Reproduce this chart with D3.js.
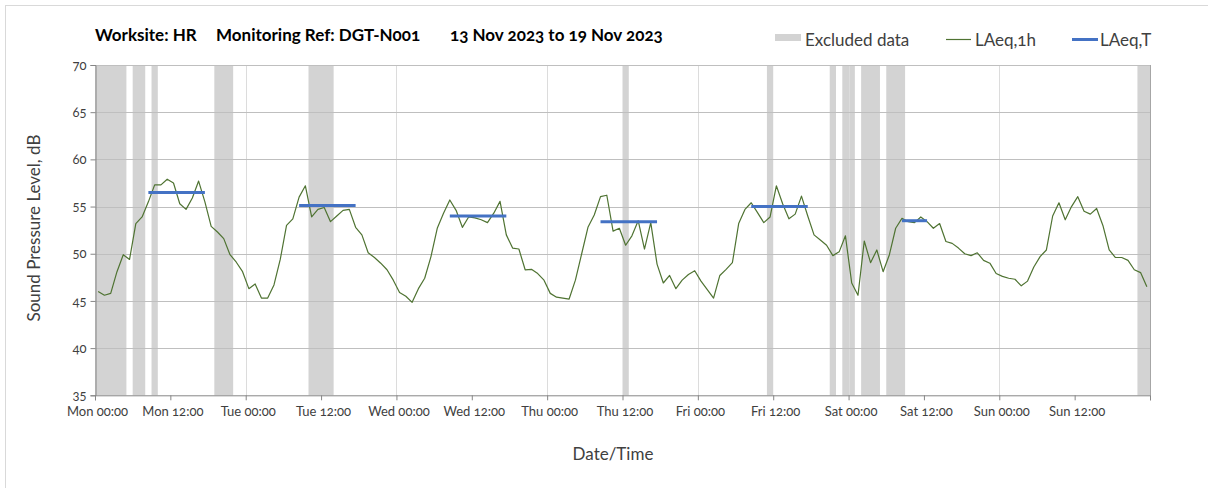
<!DOCTYPE html>
<html>
<head>
<meta charset="utf-8">
<script src="https://cdn.jsdelivr.net/npm/d3@7"></script>
<style>
  html, body { margin: 0; padding: 0; background: #fff; }
  svg { display: block; font-family: "Lato", "Open Sans", sans-serif; font-variant-numeric: oldstyle-nums; font-feature-settings: "onum" 1; }
</style>
</head>
<body>
<svg id="chart" width="1208" height="488"></svg>
<script>
// ---------- DATA ----------
const dayNames = ["Mon", "Tue", "Wed", "Thu", "Fri", "Sat", "Sun"];
const xTickHours = [0, 12, 24, 36, 48, 60, 72, 84, 96, 108, 120, 132, 144, 156, 168];
const xTickLabels = ["Mon 00:00", "Mon 12:00", "Tue 00:00", "Tue 12:00", "Wed 00:00", "Wed 12:00",
  "Thu 00:00", "Thu 12:00", "Fri 00:00", "Fri 12:00", "Sat 00:00", "Sat 12:00", "Sun 00:00", "Sun 12:00", ""];
const yTicks = [35, 40, 45, 50, 55, 60, 65, 70];

// LAeq,1h hourly values, hour 0 = Mon 13 Nov 2023 00:00
const laeq1h = [
  46.0, 45.6, 45.8, 48.1, 49.9, 49.4, 53.2, 53.9, 55.5, 57.3, 57.3, 57.9,
  57.5, 55.3, 54.7, 55.9, 57.7, 55.5, 52.9, 52.3, 51.6, 49.9, 49.1, 48.1,
  46.3, 46.8, 45.3, 45.3, 46.7, 49.4, 53.0, 53.7, 56.0, 57.2, 53.9, 54.7,
  54.9, 53.4, 54.0, 54.6, 54.7, 52.8, 52.0, 50.1, 49.6, 49.0, 48.3, 47.2,
  45.9, 45.5, 44.85, 46.3, 47.4, 49.7, 52.7, 54.3, 55.7, 54.6, 52.8, 53.9,
  53.8, 53.6, 53.3, 54.3, 55.55, 52.0, 50.6, 50.5, 48.3, 48.35, 47.9, 47.2,
  45.8, 45.4, 45.3, 45.2, 47.2, 50.0, 52.8, 54.1, 56.05, 56.2, 52.4, 52.7,
  50.9, 51.9, 53.5, 50.5, 53.3, 48.9, 46.9, 47.7, 46.3, 47.2, 47.8, 48.2,
  47.1, 46.2, 45.3, 47.7, 48.35, 49.05, 53.2, 54.7, 55.4, 54.35, 53.3, 53.9,
  57.2, 55.3, 53.7, 54.2, 56.1, 54.0, 52.0, 51.45, 50.9, 49.8, 50.2, 51.9,
  46.9, 45.6, 51.35, 49.05, 50.4, 48.1, 49.9, 52.7, 53.75, 53.4, 53.3, 53.9,
  53.4, 52.7, 53.2, 51.3, 51.1, 50.6, 50.0, 49.8, 50.1, 49.3, 49.0, 47.9,
  47.6, 47.4, 47.3, 46.6, 47.1, 48.6, 49.7, 50.4, 54.0, 55.4, 53.6, 55.0,
  56.05, 54.5, 54.2, 54.8, 53.0, 50.4, 49.6, 49.6, 49.3, 48.3, 48.0, 46.5
];

// LAeq,T period values: first hour, last hour (inclusive), level
const laeqTStart = [8, 32, 56, 80, 104, 128];
const laeqTEnd   = [17, 41, 65, 89, 113, 132];
const laeqTValue = [56.5, 55.1, 54.0, 53.4, 55.0, 53.5];

// Excluded data periods (start hour, end hour)
const excludedStart = [0, 6, 9, 19, 34, 84, 107, 117, 119, 122, 126, 166];
const excludedEnd   = [5, 8, 10, 22, 38, 85, 108, 118, 121, 125, 129, 168];

// ---------- CHART ----------
const svg = d3.select("#chart");
const W = 1208, H = 488;
const plotLeft = 95, plotRight = 1150, plotTop = 65, plotBottom = 395.3;

const x = d3.scaleLinear().domain([0, 168]).range([plotLeft, plotRight]);
const y = d3.scaleLinear().domain([35, 70]).range([plotBottom, plotTop]);

// outer frame
svg.append("rect").attr("x", 5.5).attr("y", 5.5).attr("width", W + 10).attr("height", H + 10)
  .attr("fill", "#fff").attr("stroke", "#d9d9d9").attr("stroke-width", 1);

// excluded bands
svg.append("g").selectAll("rect")
  .data(excludedStart.map((s, i) => ({ s, e: excludedEnd[i] })))
  .join("rect")
  .attr("x", d => x(d.s)).attr("width", d => x(d.e) - x(d.s))
  .attr("y", y(70)).attr("height", y(35) - y(70))
  .attr("fill", "#d3d3d3");

// vertical day gridlines
svg.append("g").selectAll("line")
  .data([24, 48, 72, 96, 120, 144])
  .join("line")
  .attr("x1", d => Math.round(x(d)) + 0.5).attr("x2", d => Math.round(x(d)) + 0.5)
  .attr("y1", y(70)).attr("y2", y(35))
  .attr("stroke", "#dcdcdc").attr("stroke-width", 1);

// horizontal gridlines
svg.append("g").selectAll("line")
  .data(yTicks.filter(v => v > 35))
  .join("line")
  .attr("x1", plotLeft).attr("x2", plotRight)
  .attr("y1", d => Math.round(y(d)) + 0.5).attr("y2", d => Math.round(y(d)) + 0.5)
  .attr("stroke", "#bfbfbf").attr("stroke-width", 1);

// right border line of plot
svg.append("line")
  .attr("x1", Math.round(plotRight) + 0.5).attr("x2", Math.round(plotRight) + 0.5)
  .attr("y1", y(70)).attr("y2", y(35))
  .attr("stroke", "#a6a6a6");

// Y axis
const yAxis = d3.axisLeft(y).tickValues(yTicks).tickSize(5).tickPadding(4).tickFormat(d3.format("d"));
const gy = svg.append("g").attr("transform", `translate(${plotLeft + 0.5},0)`).call(yAxis);
gy.select(".domain").attr("stroke", "#868686");
gy.selectAll(".tick line").attr("stroke", "#868686");
gy.selectAll(".tick text").attr("fill", "#404040").attr("font-size", 13)
  .attr("font-family", "Lato, 'Open Sans', sans-serif");

// X axis
const xAxis = d3.axisBottom(x).tickValues(xTickHours).tickSize(5).tickPadding(6)
  .tickFormat((d, i) => xTickLabels[i]);
const gx = svg.append("g").attr("transform", `translate(0,${plotBottom})`).call(xAxis);
gx.select(".domain").attr("stroke", "#868686");
gx.selectAll(".tick line").attr("stroke", "#868686");
gx.selectAll(".tick text").attr("fill", "#404040").attr("font-size", 13).attr("dx", 2)
  .attr("font-family", "Lato, 'Open Sans', sans-serif");

// LAeq,1h line
const line = d3.line().x((d, i) => x(i + 0.5)).y(d => y(d));
svg.append("path").datum(laeq1h)
  .attr("d", line).attr("fill", "none")
  .attr("stroke", "#4f7332").attr("stroke-width", 1.2).attr("stroke-linejoin", "round");

// LAeq,T segments
svg.append("g").selectAll("line")
  .data(laeqTStart.map((s, i) => ({ s, e: laeqTEnd[i], v: laeqTValue[i] })))
  .join("line")
  .attr("x1", d => x(d.s + 0.5)).attr("x2", d => x(d.e + 0.5))
  .attr("y1", d => y(d.v)).attr("y2", d => y(d.v))
  .attr("stroke", "#4472c4").attr("stroke-width", 3);

// Title
const title = svg.append("g").attr("font-weight", "bold").attr("font-size", 17).attr("fill", "#000");
title.append("text").attr("x", 95).attr("y", 41).text("Worksite: HR");
title.append("text").attr("x", 216).attr("y", 41).text("Monitoring Ref: DGT-N001");
title.append("text").attr("x", 450).attr("y", 41).text("13 Nov 2023 to 19 Nov 2023");

// Legend
const lg = svg.append("g").attr("font-size", 17).attr("fill", "#404040");
lg.append("rect").attr("x", 775).attr("y", 34).attr("width", 26).attr("height", 7).attr("fill", "#d3d3d3");
lg.append("text").attr("x", 805).attr("y", 46).text("Excluded data");
lg.append("line").attr("x1", 946).attr("x2", 971).attr("y1", 39.5).attr("y2", 39.5)
  .attr("stroke", "#4f7332").attr("stroke-width", 1.2);
lg.append("text").attr("x", 975).attr("y", 46).text("LAeq,1h");
lg.append("line").attr("x1", 1072).attr("x2", 1098).attr("y1", 39.5).attr("y2", 39.5)
  .attr("stroke", "#4472c4").attr("stroke-width", 3);
lg.append("text").attr("x", 1100).attr("y", 46).text("LAeq,T");

// Axis titles
svg.append("text").attr("x", 613).attr("y", 460).attr("text-anchor", "middle")
  .attr("font-size", 17).attr("fill", "#404040").text("Date/Time");
svg.append("text").attr("transform", "translate(40,228) rotate(-90)").attr("text-anchor", "middle")
  .attr("font-size", 17).attr("fill", "#404040").text("Sound Pressure Level, dB");
</script>
</body>
</html>
